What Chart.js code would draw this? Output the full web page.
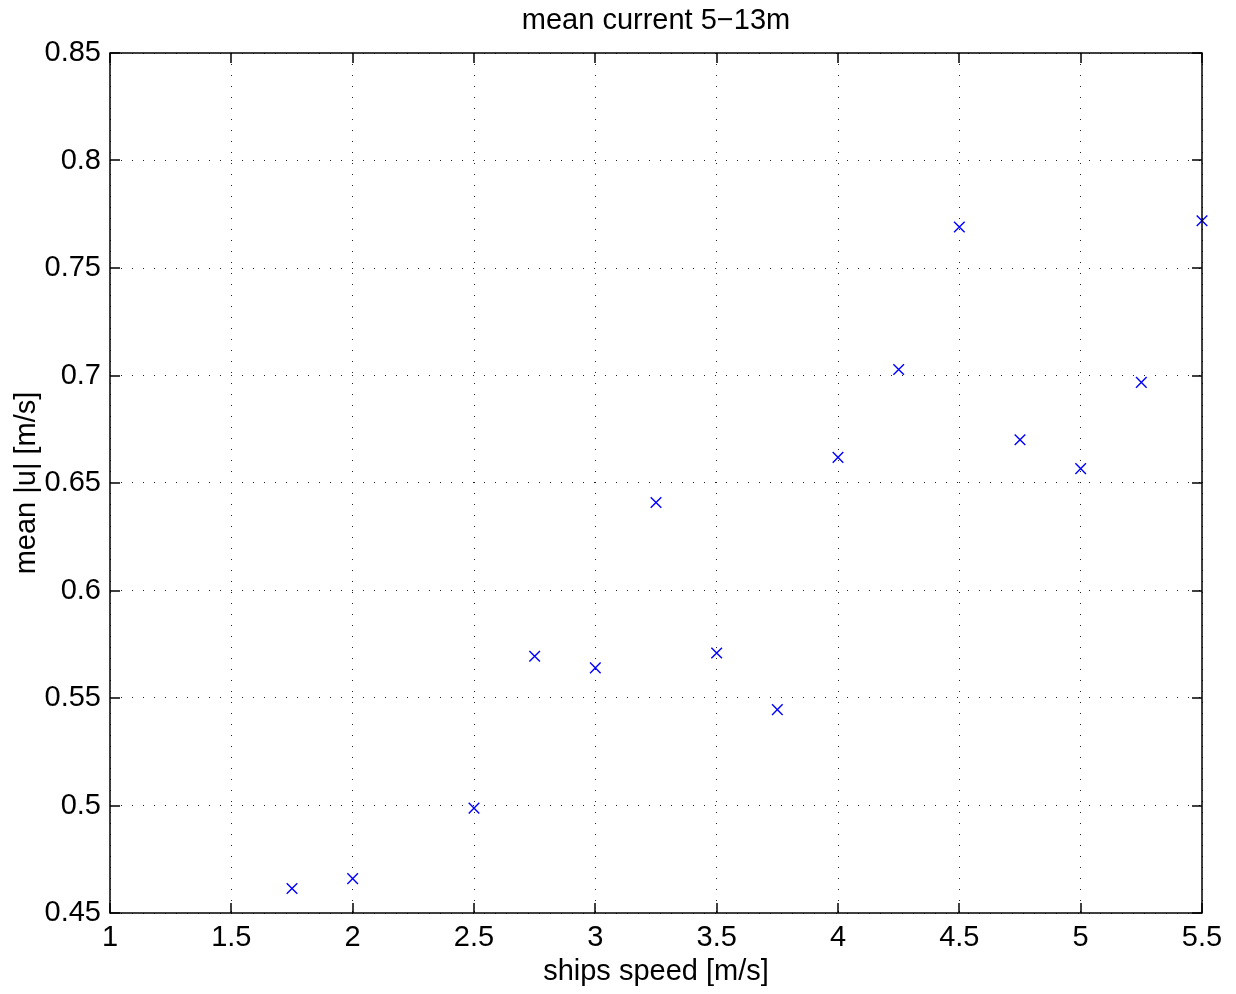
<!DOCTYPE html>
<html>
<head>
<meta charset="utf-8">
<script src="https://cdn.jsdelivr.net/npm/chart.js@4"></script>
<style>
  html, body { margin: 0; padding: 0; background: #fff; }
  #wrap { width: 1236px; height: 994px; }
</style>
</head>
<body>
<div id="wrap"><canvas id="scatterChart" width="1236" height="994"></canvas></div>
<script>
const chartTitle = 'mean current 5\u221213m';
const xLabel = 'ships speed [m/s]';
const yLabel = 'mean |u| [m/s]';

// ship speed (m/s) for each run
const speeds = [1.75, 2.0, 2.5, 2.75, 3.0, 3.25, 3.5, 3.75, 4.0, 4.25, 4.5, 4.75, 5.0, 5.25, 5.5];
// mean |u| over 5-13m depth
const meanCurrent = [0.4614, 0.466, 0.4988, 0.5694, 0.564, 0.6409, 0.5709, 0.5446, 0.6619, 0.7028, 0.7691, 0.6701, 0.6567, 0.6968, 0.772];

const xTicks = [1, 1.5, 2, 2.5, 3, 3.5, 4, 4.5, 5, 5.5];
const yTicks = [0.45, 0.5, 0.55, 0.6, 0.65, 0.7, 0.75, 0.8, 0.85];

const FONT = 'Liberation Sans, Arial, Helvetica, sans-serif';
const FONT_SIZE = 29;

// matlab style box with inward ticks + title
const matlabBox = {
  id: 'matlabBox',
  afterDraw(chart) {
    const { ctx, chartArea: a, scales } = chart;
    const tl = 10;
    ctx.save();
    ctx.strokeStyle = '#000';
    ctx.lineWidth = 1.5;
    ctx.beginPath();
    xTicks.forEach(v => {
      const x = Math.round(scales.x.getPixelForValue(v));
      ctx.moveTo(x, a.bottom); ctx.lineTo(x, a.bottom - tl);
      ctx.moveTo(x, a.top); ctx.lineTo(x, a.top + tl);
    });
    yTicks.forEach(v => {
      const y = Math.round(scales.y.getPixelForValue(v));
      ctx.moveTo(a.left, y); ctx.lineTo(a.left + tl, y);
      ctx.moveTo(a.right, y); ctx.lineTo(a.right - tl, y);
    });
    ctx.stroke();
    ctx.strokeRect(Math.round(a.left), Math.round(a.top),
      Math.round(a.right - a.left), Math.round(a.bottom - a.top));

    ctx.fillStyle = '#000';
    ctx.font = FONT_SIZE + 'px ' + FONT;
    ctx.textAlign = 'center';
    ctx.textBaseline = 'middle';
    ctx.fillText(chartTitle, (a.left + a.right) / 2, 21);
    ctx.restore();
  }
};

const trimNum = v => String(parseFloat(Number(v).toFixed(2)));

const config = {
  type: 'scatter',
  data: {
    datasets: [{
      data: speeds.map((s, i) => ({ x: s, y: meanCurrent[i] })),
      pointStyle: 'crossRot',
      pointRadius: 7.5,
      pointHoverRadius: 7.5,
      borderColor: '#0000ff',
      backgroundColor: '#0000ff',
      borderWidth: 1.4,
      clip: false
    }]
  },
  options: {
    responsive: false,
    animation: false,
    layout: { padding: { left: 0, right: 34, top: 53, bottom: 0 } },
    plugins: {
      legend: { display: false },
      tooltip: { enabled: false }
    },
    scales: {
      x: {
        type: 'linear',
        min: 1,
        max: 5.5,
        afterFit: s => { s.height = 81; },
        afterBuildTicks: s => { s.ticks = xTicks.map(v => ({ value: v })); },
        ticks: {
          color: '#000',
          padding: 8,
          maxRotation: 0,
          font: { family: FONT, size: FONT_SIZE },
          callback: v => trimNum(v)
        },
        grid: { color: '#222', lineWidth: 1, drawTicks: false },
        border: { display: false, dash: [1, 10] },
        title: {
          display: true,
          text: xLabel,
          color: '#000',
          font: { family: FONT, size: FONT_SIZE },
          padding: { top: 0, bottom: 5 }
        }
      },
      y: {
        type: 'linear',
        min: 0.45,
        max: 0.85,
        afterFit: s => { s.width = 110; },
        afterBuildTicks: s => { s.ticks = yTicks.map(v => ({ value: v })); },
        ticks: {
          color: '#000',
          padding: 9,
          font: { family: FONT, size: FONT_SIZE },
          callback: v => trimNum(v)
        },
        grid: { color: '#222', lineWidth: 1, drawTicks: false },
        border: { display: false, dash: [1, 10] },
        title: {
          display: true,
          text: yLabel,
          color: '#000',
          font: { family: FONT, size: FONT_SIZE },
          padding: { top: 10, bottom: 0 }
        }
      }
    }
  },
  plugins: [matlabBox]
};

const ctx = document.querySelector('#scatterChart').getContext('2d');
new Chart(ctx, config);
</script>
</body>
</html>
